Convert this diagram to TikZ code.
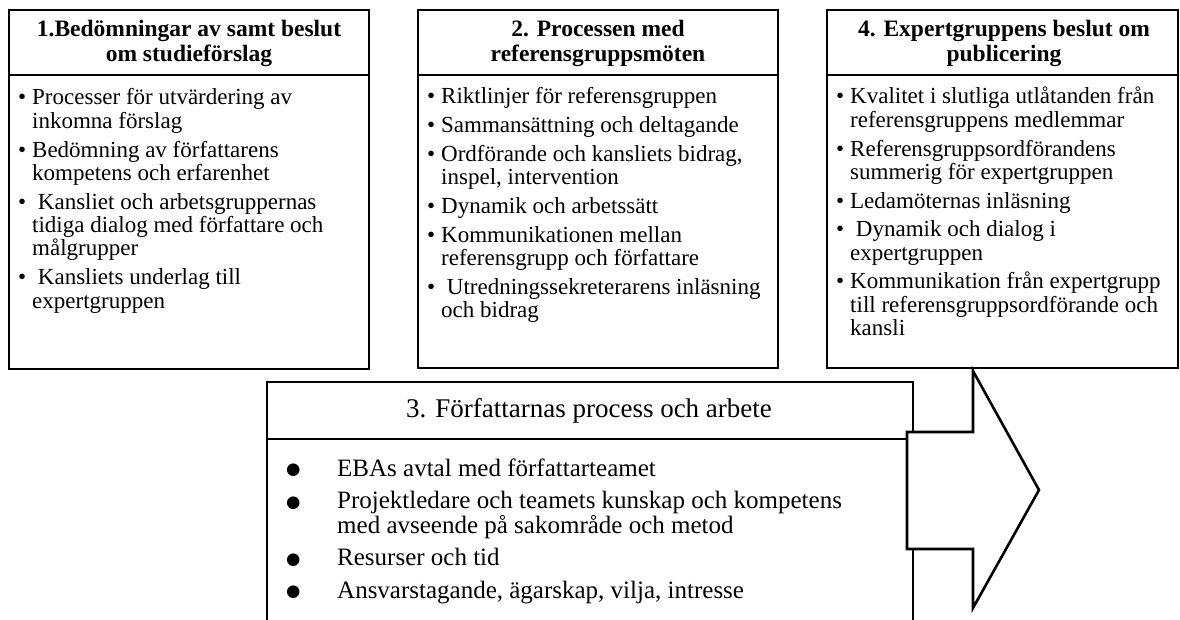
\documentclass[tikz,border=0pt]{standalone}
\usepackage{fontspec}
\setmainfont{Liberation Serif}
\newfontfamily\dejavu{DejaVu Sans}
\newlength\bind
\newcommand\bsym{\textbullet}
\newcommand\bitem[1]{\hangindent=\bind\hangafter=1\noindent\makebox[\bind][l]{\bsym}#1\par}
\newcommand\smallbody[1]{\parbox[t]{400pt}{\fontsize{23}{23.4}\selectfont\rightskip=0pt plus 1fil\setlength\parskip{5.3pt}\setlength\bind{14pt}#1}}
\newcommand\bigbody[1]{\parbox[t]{600pt}{\fontsize{25}{24.5}\selectfont\rightskip=0pt plus 1fil\setlength\parskip{8pt}\setlength\bind{50pt}\renewcommand\bsym{\hspace*{-1pt}\raisebox{1.5pt}{\dejavu\fontsize{16.5}{16.5}\selectfont ●}}#1}}
\newcommand\titlebox[1]{\parbox[t]{360pt}{\centering\fontsize{23.5}{24.4}\selectfont\bfseries #1}}
\tikzset{
  x=1pt, y=-1pt,
  thickbox/.style={draw=black, line width=2.6pt},
  thinbox/.style={draw=black, line width=1.2pt},
  txt/.style={inner sep=0pt, anchor=base west},
  ttl/.style={inner sep=0pt, anchor=base},
  blockarrow/.style={draw=black, fill=white, line width=2.6pt, line join=miter}
}
\begin{document}
\begin{tikzpicture}
\useasboundingbox (0,0) rectangle (1180,620);
\fill[white] (0,0) rectangle (1180,620);

% Box 1
\draw[thickbox] (9,10) rectangle (369,369);
\draw[thickbox] (9,75) -- (369,75);
\node[ttl] (t1) at (189,37) {\titlebox{1.Bedömningar av samt beslut\\om studieförslag}};
\node[txt] (b1) at (18,105) {\smallbody{%
\bitem{Processer för utvärdering av\\inkomna förslag}
\bitem{Bedömning av författarens\\kompetens och erfarenhet}
\bitem{\ Kansliet och arbetsgruppernas\\tidiga dialog med författare och\\målgrupper}
\bitem{\ Kansliets underlag till\\expertgruppen}}};

% Box 2
\draw[thickbox] (418,10) rectangle (778,368);
\draw[thickbox] (418,75) -- (778,75);
\node[ttl] (t2) at (598,37) {\titlebox{2. Processen med\\referensgruppsmöten}};
\node[txt] (b2) at (427,104) {\smallbody{%
\bitem{Riktlinjer för referensgruppen}
\bitem{Sammansättning och deltagande}
\bitem{Ordförande och kansliets bidrag,\\inspel, intervention}
\bitem{Dynamik och arbetssätt}
\bitem{Kommunikationen mellan\\referensgrupp och författare}
\bitem{\ Utredningssekreterarens inläsning\\och bidrag}}};

% Box 4
\draw[thickbox] (827,10) rectangle (1178,368);
\draw[thickbox] (827,75) -- (1178,75);
\node[ttl] (t4) at (1004,37) {\titlebox{4. Expertgruppens beslut om\\publicering}};
\node[txt] (b4) at (836,104) {\smallbody{%
\bitem{Kvalitet i slutliga utlåtanden från\\referensgruppens medlemmar}
\bitem{Referensgruppsordförandens\\summerig för expertgruppen}
\bitem{Ledamöternas inläsning}
\bitem{\ Dynamik och dialog i\\expertgruppen}
\bitem{Kommunikation från expertgrupp\\till referensgruppsordförande och\\kansli}}};

% Box 3
\draw[thinbox] (267,625) -- (267,382) -- (913,382) -- (913,625);
\draw[thinbox] (267,439) -- (913,439);
\node[ttl, font=\fontsize{27}{30}\selectfont] (t3) at (589,417) {3. Författarnas process och arbete};
\node[txt] (b3) at (287,476) {\bigbody{%
\bitem{EBAs avtal med författarteamet}
\bitem{Projektledare och teamets kunskap och kompetens\\med avseende på sakområde och metod}
\bitem{Resurser och tid}
\bitem{Ansvarstagande, ägarskap, vilja, intresse}}};

% Block arrow
\draw[blockarrow] (907,432) -- (973,432) -- (973,371) -- (1039,490) -- (973,608) -- (973,549) -- (907,549) -- cycle;
\end{tikzpicture}
\end{document}
